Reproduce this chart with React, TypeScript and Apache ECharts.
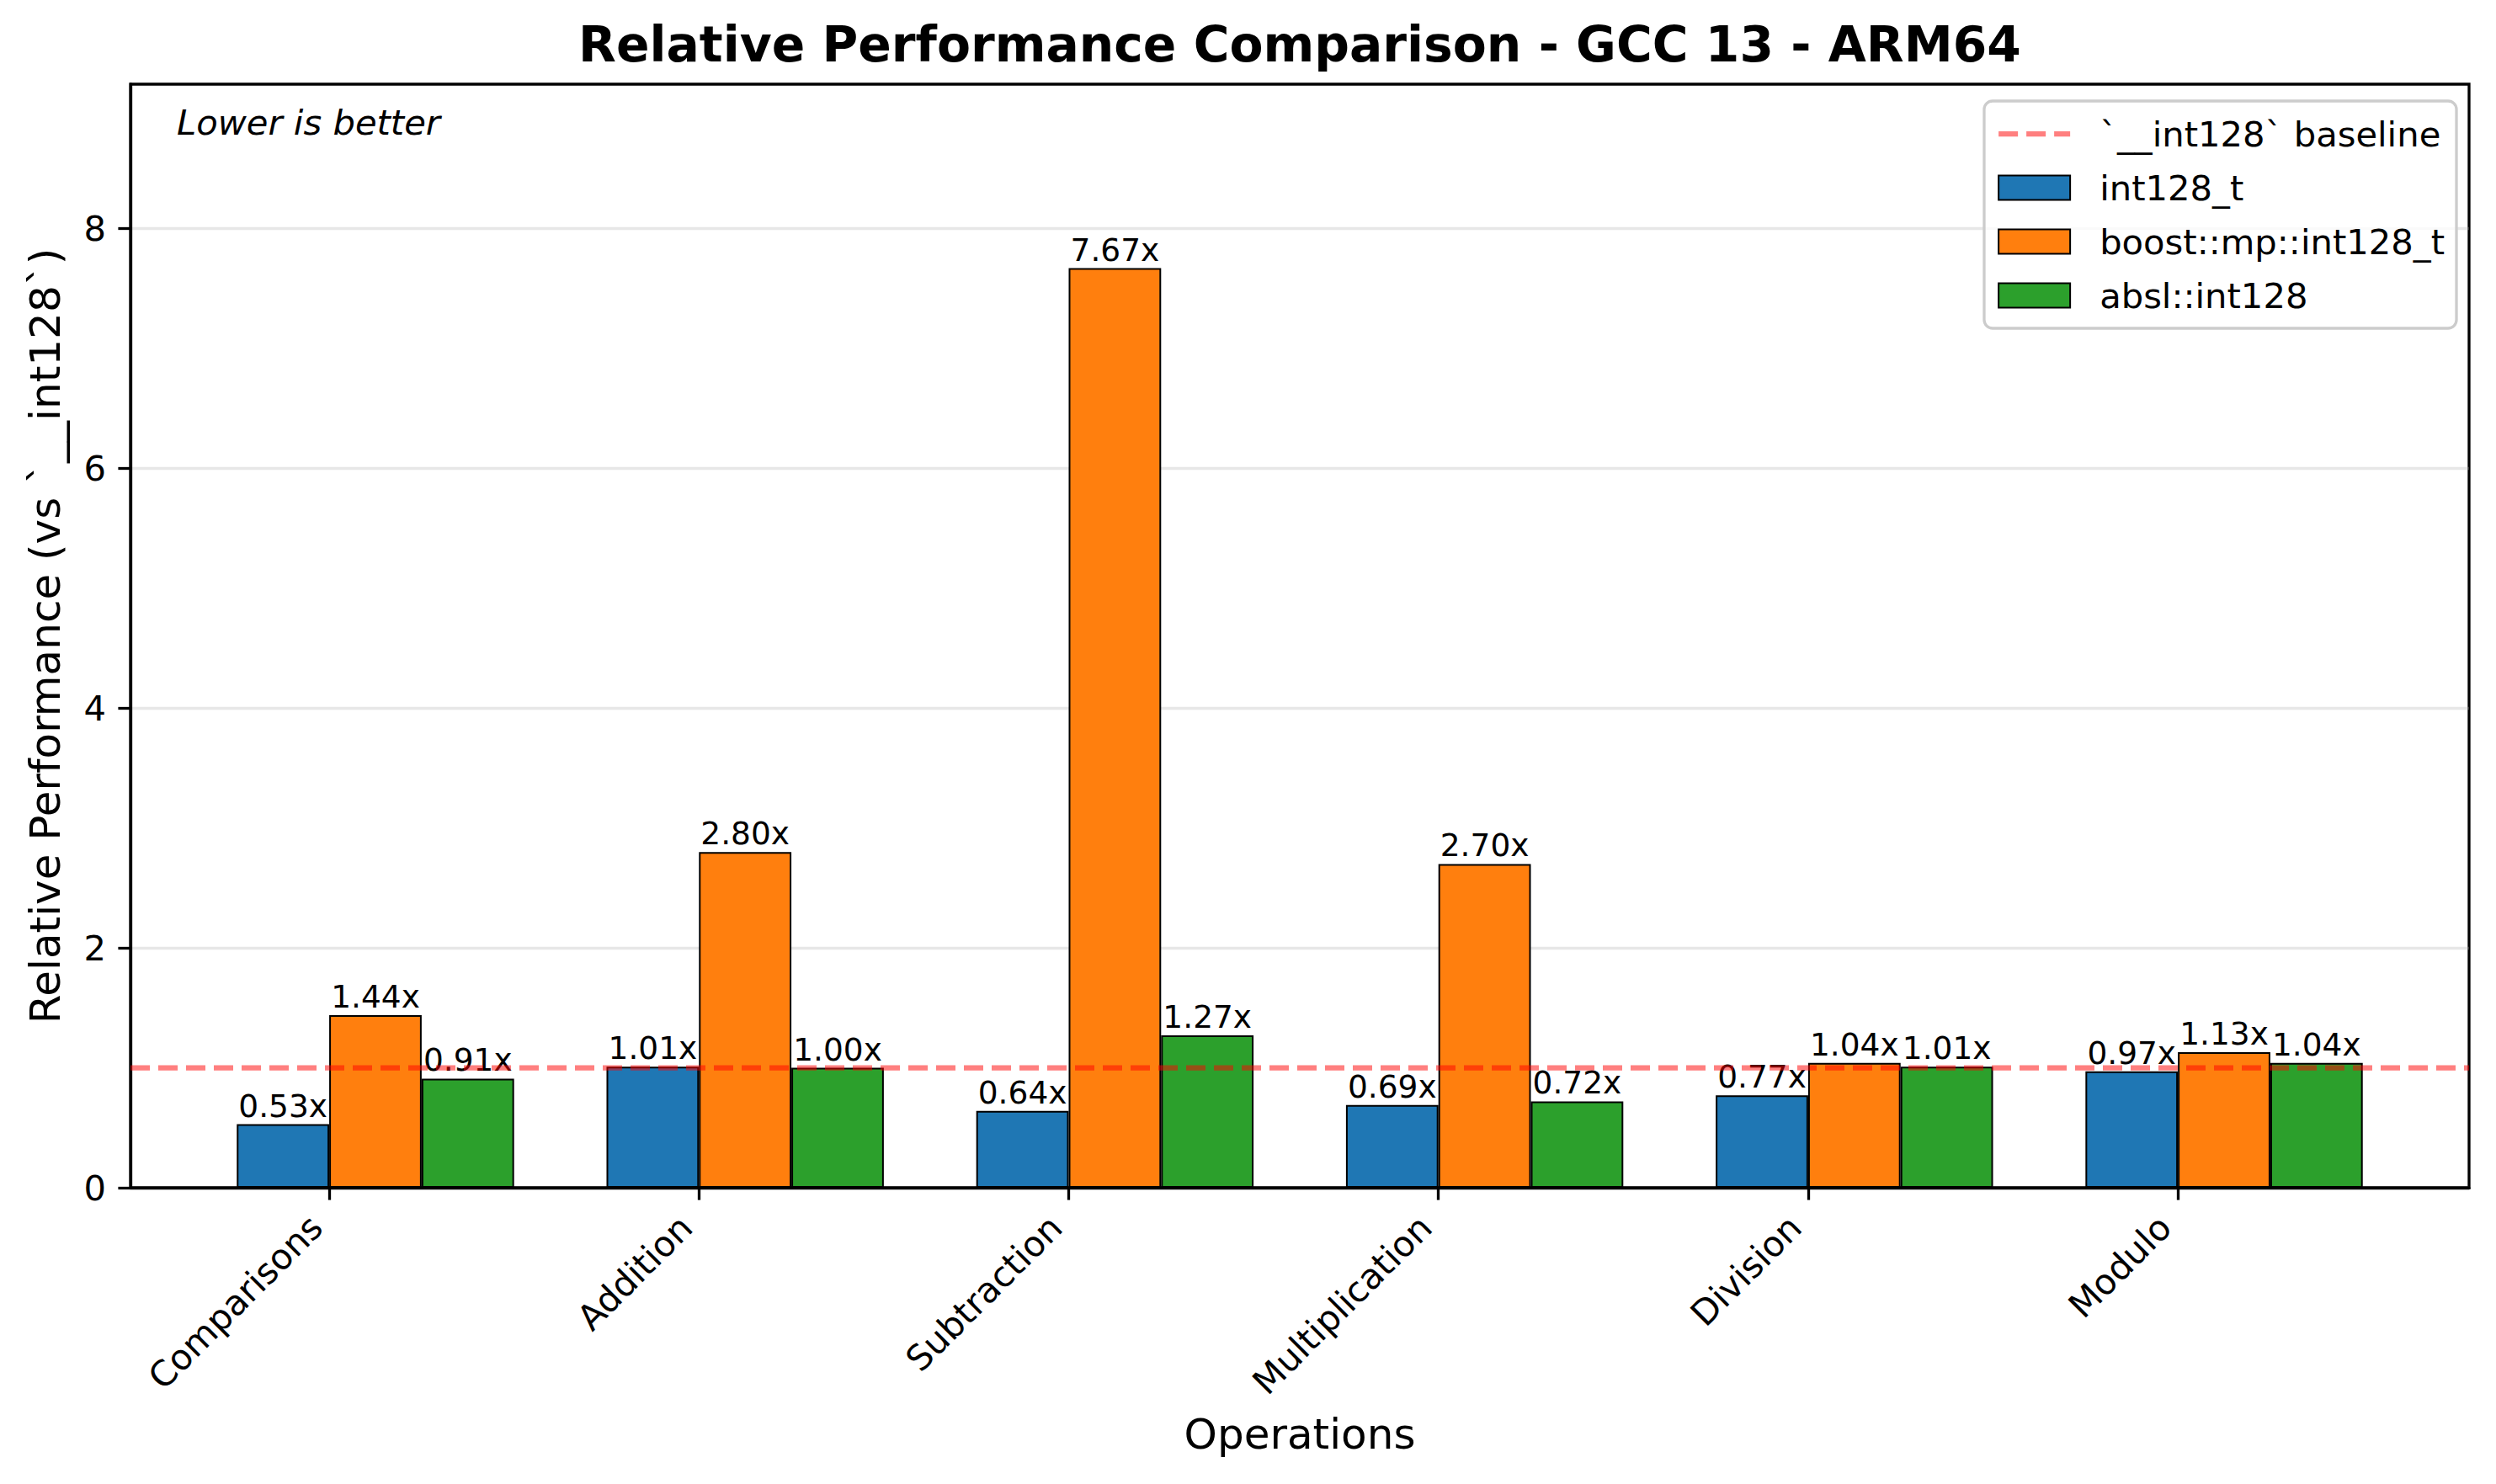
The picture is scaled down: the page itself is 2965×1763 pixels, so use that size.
import React, { useEffect, useRef } from "react";
import * as echarts from "echarts";

const categories = ["Comparisons", "Addition", "Subtraction", "Multiplication", "Division", "Modulo"];
const int128Values = [0.53, 1.01, 0.64, 0.69, 0.77, 0.97];
const boostValues = [1.44, 2.8, 7.67, 2.7, 1.04, 1.13];
const abslValues = [0.91, 1.0, 1.27, 0.72, 1.01, 1.04];
const yTicks = [0, 2, 4, 6, 8];
const baselineValue = 1;
const seriesNames = ["int128_t", "boost::mp::int128_t", "absl::int128"];
const baselineName = "`__int128` baseline";

const W = 2965;
const H = 1763;
const FONT = "DejaVu Sans";
const GRID_L = 155;
const GRID_R = 2933;
const GRID_T = 100;
const GRID_B = 1411;
const X_MIN = -0.5375;
const X_MAX = 5.7875;
const Y_MAX = 9.204;
const LABEL_SHIFT = 0.035;

export default function App() {
  const ref = useRef<HTMLDivElement>(null);
  useEffect(() => {
    if (!ref.current) return;
    const chart = echarts.init(ref.current, null, { renderer: "svg" });
    const plotW = GRID_R - GRID_L;
    const barWidth = (0.25 * plotW) / (X_MAX - X_MIN);
    const colors = ["#1f77b4", "#ff7f0e", "#2ca02c"];
    const valueSets = [int128Values, boostValues, abslValues];
    const barSeries = valueSets.map((vals, si) => ({
      name: seriesNames[si],
      type: "bar",
      barWidth,
      barGap: "0%",
      data: vals.map((v, i) => [i + 0.125, v]),
      itemStyle: { color: colors[si], borderColor: "#000", borderWidth: 2 },
      label: {
        show: true,
        position: "top",
        distance: 3,
        fontFamily: FONT,
        fontSize: 37.5,
        color: "#000",
        formatter: (p: any) => p.value[1].toFixed(2) + "x",
      },
      z: 2,
    }));
    const baselineStyle = { color: "rgba(255,0,0,0.5)", width: 6.25, type: [23, 10] as any };
    chart.setOption({
      animation: false,
      backgroundColor: "#fff",
      textStyle: { fontFamily: FONT },
      title: [
        {
          text: "Relative Performance Comparison - GCC 13 - ARM64",
          left: (GRID_L + GRID_R) / 2,
          textAlign: "center",
          top: 24,
          padding: 0,
          textStyle: { fontFamily: FONT, fontSize: 58.3, fontWeight: "bold", color: "#000" },
        },
        {
          text: "Lower is better",
          left: 210,
          top: 124,
          padding: 0,
          textStyle: { fontFamily: FONT, fontSize: 41.7, fontStyle: "italic", fontWeight: "normal", color: "#000" },
        },
      ],
      legend: {
        orient: "vertical",
        left: 2357,
        top: 120,
        padding: [18, 14],
        itemGap: 22,
        itemWidth: 85,
        itemHeight: 29,
        backgroundColor: "rgba(255,255,255,0.8)",
        borderColor: "#cccccc",
        borderWidth: 3.3,
        borderRadius: 10,
        textStyle: { fontFamily: FONT, fontSize: 41.7, color: "#000", lineHeight: 42, padding: [0, 0, 0, 30] },
        data: [
          {
            name: baselineName,
            lineStyle: baselineStyle,
            itemStyle: { color: "rgba(0,0,0,0)", borderColor: "rgba(0,0,0,0)", borderWidth: 0, opacity: 0 },
          },
          ...seriesNames.map((n) => ({ name: n, icon: "rect" })),
        ],
      },
      grid: {
        left: GRID_L,
        right: W - GRID_R,
        top: GRID_T,
        bottom: H - GRID_B,
        show: true,
        borderColor: "#000",
        borderWidth: 3.3,
        backgroundColor: "transparent",
        containLabel: false,
      },
      xAxis: {
        type: "value",
        min: X_MIN,
        max: X_MAX,
        name: "Operations",
        nameLocation: "middle",
        nameGap: 268,
        nameTextStyle: { fontFamily: FONT, fontSize: 50, color: "#000" },
        axisLine: { show: true, onZero: false, lineStyle: { color: "#000", width: 3.3 } },
        axisTick: {
          show: true,
          length: 14.6,
          lineStyle: { color: "#000", width: 3.3 },
          customValues: categories.map((_, i) => i),
        },
        axisLabel: {
          show: true,
          rotate: 45,
          margin: 40,
          fontFamily: FONT,
          fontSize: 41.7,
          color: "#000",
          customValues: categories.map((_, i) => i - LABEL_SHIFT),
          formatter: (v: number) => categories[Math.round(v)] ?? "",
        },
        splitLine: { show: false },
      },
      yAxis: {
        type: "value",
        min: 0,
        max: Y_MAX,
        interval: 2,
        name: "Relative Performance (vs `__int128`)",
        nameLocation: "middle",
        nameGap: 76,
        nameTextStyle: { fontFamily: FONT, fontSize: 50, color: "#000" },
        axisLine: { show: true, onZero: false, lineStyle: { color: "#000", width: 3.3 } },
        axisTick: {
          show: true,
          length: 14.6,
          lineStyle: { color: "#000", width: 3.3 },
          customValues: yTicks,
        },
        axisLabel: {
          fontFamily: FONT,
          fontSize: 41.7,
          color: "#000",
          margin: 29,
          customValues: yTicks,
          formatter: (v: number) => String(v),
        },
        splitLine: { show: true, lineStyle: { color: "rgba(176,176,176,0.3)", width: 3.3 } },
      },
      series: [
        ...barSeries,
        {
          name: baselineName,
          type: "line",
          data: [
            [X_MIN, baselineValue],
            [X_MAX, baselineValue],
          ],
          symbol: "none",
          showSymbol: false,
          lineStyle: baselineStyle,
          itemStyle: { color: "rgba(255,0,0,0.5)" },
          z: 5,
          silent: true,
        },
      ],
    });
    return () => chart.dispose();
  }, []);
  return <div ref={ref} style={{ position: "fixed", left: 0, top: 0, width: W, height: H }} />;
}
